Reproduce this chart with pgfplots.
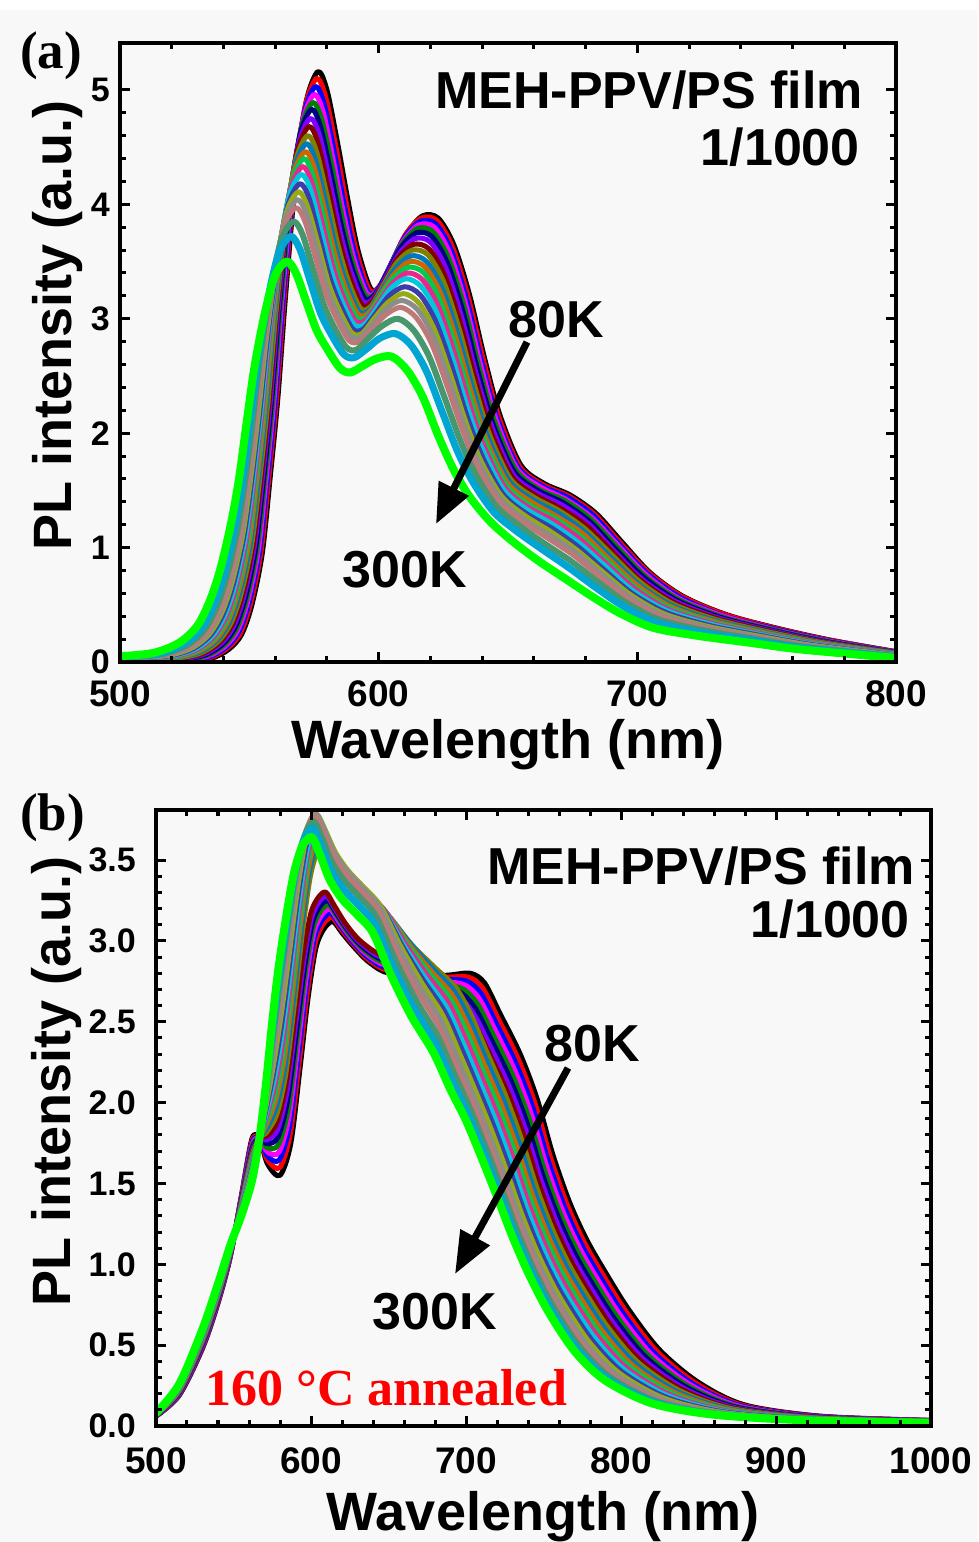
\documentclass[border=0pt]{standalone}
\usepackage{fontspec}
\setmainfont{Liberation Sans}
\newfontfamily\timesfont{Liberation Serif}
\usepackage{pgfplots}
\pgfplotsset{compat=1.18}
\usetikzlibrary{arrows.meta}
\definecolor{bgc}{RGB}{248,248,248}
\definecolor{c0}{RGB}{0,0,0}
\definecolor{c1}{RGB}{255,0,0}
\definecolor{c2}{RGB}{0,0,255}
\definecolor{c3}{RGB}{255,0,255}
\definecolor{c4}{RGB}{0,128,0}
\definecolor{c5}{RGB}{0,0,128}
\definecolor{c6}{RGB}{128,0,255}
\definecolor{c7}{RGB}{128,0,0}
\definecolor{c8}{RGB}{128,128,0}
\definecolor{c9}{RGB}{0,120,190}
\definecolor{c10}{RGB}{204,102,0}
\definecolor{c11}{RGB}{0,200,80}
\definecolor{c12}{RGB}{230,40,140}
\definecolor{c13}{RGB}{0,200,220}
\definecolor{c14}{RGB}{60,60,170}
\definecolor{c15}{RGB}{150,170,20}
\definecolor{c16}{RGB}{140,140,140}
\definecolor{c17}{RGB}{190,120,120}
\definecolor{c18}{RGB}{70,150,110}
\definecolor{c19}{RGB}{0,165,210}
\definecolor{c20}{RGB}{0,255,0}
\pgfplotsset{
  myaxis/.style={
    scale only axis, anchor=south west, axis on top,
    tick align=inside,
    major tick length=10pt, minor tick length=6pt,
    tick style={line width=3pt, black},
    axis line style={line width=3.5pt},
    scaled ticks=false,
    /pgf/number format/assume math mode=true,
    /pgf/number format/1000 sep={},
    xticklabel style={font=\bfseries\fontsize{37}{37}\selectfont, anchor=base, inner sep=0pt},
    yticklabel style={font=\bfseries\fontsize{34}{34}\selectfont, anchor=east, inner sep=0pt},
    label style={font=\bfseries\fontsize{54}{54}\selectfont},
    every axis plot/.append style={smooth, line join=round, line cap=round},
  },
  lw/.style={line width=5pt},
}
\begin{document}
\begin{tikzpicture}
\useasboundingbox (0,0) rectangle (979pt,-1542pt);
\fill[white] (0,0) rectangle (979pt,-1542pt);
\fill[bgc] (0,-10pt) rectangle (977pt,-1542pt);

% ---------------- panel (a) ----------------
\begin{axis}[myaxis,
  at={(120pt,-662pt)}, width=776pt, height=619pt,
  xmin=500, xmax=800, ymin=0, ymax=5.41,
  xtick={500,600,700,800}, minor x tick num=4,
  ytick={0,1,2,3,4,5}, minor y tick num=4,
  xticklabel style={yshift=-44pt},
  yticklabel style={xshift=-10pt},
  xlabel={Wavelength (nm)},
  xlabel style={at={(axis description cs:0.5,0)}, anchor=base, yshift=-96pt},
  ylabel={PL intensity (a.u.)},
  ylabel style={at={(axis description cs:-0.081,0.543)}, anchor=center},
]
\addplot[c0,lw] coordinates {(500,0)(525,.01)(535,.03)(542,.11)(547,.24)(551,.50)(555,.95)(558,1.60)(561,2.30)(564,3.20)(568,4.25)(572,4.90)(576.5,5.16)(580,5.00)(584,4.55)(588,4.05)(592,3.60)(597,3.26)(601,3.30)(606,3.52)(611,3.75)(617,3.90)(623,3.88)(629,3.65)(635,3.22)(641,2.65)(647,2.15)(655,1.72)(664,1.56)(674,1.46)(684,1.30)(694,1.05)(705,.78)(718,.57)(735,.41)(755,.29)(775,.19)(800,.09)};
\addplot[c1,lw] coordinates {(500,0)(524.5,.01)(534.5,.035)(541.5,.12)(546.5,.25)(550.5,.51)(554.5,.96)(557.5,1.60)(560.5,2.29)(563.5,3.18)(567.5,4.21)(571.5,4.85)(576,5.10)(579.5,4.94)(583.5,4.50)(587.5,4.01)(591.5,3.58)(596.5,3.25)(600.5,3.29)(605.5,3.51)(610.5,3.74)(616.5,3.88)(622.5,3.86)(628.5,3.63)(634.5,3.20)(640.5,2.64)(646.5,2.14)(654.5,1.71)(663.5,1.55)(673.5,1.45)(683.5,1.29)(693.5,1.04)(704.5,.78)(717.5,.57)(734.5,.41)(754.5,.29)(774.5,.19)(800,.09)};
\addplot[c2,lw] coordinates {(500,.004)(524,.016)(534,.041)(541,.127)(546,.265)(550,.526)(554,.972)(557,1.60)(560,2.28)(563,3.15)(567,4.15)(571,4.78)(575.5,5.03)(579,4.87)(583,4.44)(587,3.96)(591,3.55)(596,3.23)(600,3.27)(605,3.49)(610,3.71)(616,3.85)(622,3.83)(628,3.60)(634,3.17)(640,2.61)(646,2.12)(654,1.70)(663,1.54)(673,1.44)(683,1.28)(693,1.03)(704,.77)(717,.56)(734,.40)(754,.285)(774,.187)(800,.088)};
\addplot[c3,lw] coordinates {(500,.006)(523.5,.018)(533.5,.047)(540.5,.135)(545.5,.277)(549.5,.54)(553.5,.98)(556.5,1.60)(559.5,2.28)(562.5,3.13)(566.5,4.11)(570.5,4.72)(575,4.96)(578.5,4.81)(582.5,4.38)(586.5,3.91)(590.5,3.52)(595.5,3.22)(599.5,3.25)(604.5,3.46)(609.5,3.68)(615.5,3.82)(621.5,3.80)(627.5,3.57)(633.5,3.14)(639.5,2.59)(645.5,2.11)(653.5,1.69)(662.5,1.53)(672.5,1.42)(682.5,1.26)(692.5,1.02)(703.5,.76)(716.5,.55)(733.5,.40)(753.5,.28)(773.5,.185)(800,.086)};
\addplot[c4,lw] coordinates {(500,.008)(523,.021)(533,.052)(540,.144)(545,.29)(549,.553)(553,.993)(556,1.60)(559,2.27)(562,3.10)(566,4.06)(570,4.66)(574.5,4.89)(578,4.74)(582,4.33)(586,3.87)(590,3.49)(595,3.20)(599,3.23)(604,3.43)(609,3.65)(615,3.79)(621,3.76)(627,3.53)(633,3.11)(639,2.56)(645,2.09)(653,1.68)(662,1.51)(672,1.41)(682,1.25)(692,1.01)(703,.75)(716,.545)(733,.393)(753,.279)(773,.183)(800,.085)};
\addplot[c5,lw] coordinates {(500,.01)(522.5,.024)(532.5,.058)(539.5,.152)(544.5,.302)(548.5,.566)(552.5,1.00)(555.5,1.60)(558.5,2.26)(561.5,3.08)(565.5,4.01)(569.5,4.60)(574,4.83)(577.5,4.68)(581.5,4.27)(585.5,3.82)(589.5,3.46)(594.5,3.18)(598.5,3.21)(603.5,3.41)(608.5,3.62)(614.5,3.75)(620.5,3.72)(626.5,3.49)(632.5,3.07)(638.5,2.53)(644.5,2.06)(652.5,1.66)(661.5,1.50)(671.5,1.39)(681.5,1.23)(691.5,.99)(702.5,.74)(715.5,.537)(732.5,.388)(752.5,.275)(772.5,.18)(800,.083)};
\addplot[c6,lw] coordinates {(500,.012)(522,.027)(532,.064)(539,.161)(544,.316)(548,.581)(552,1.02)(555,1.60)(558,2.25)(561,3.05)(565,3.96)(569,4.53)(573.5,4.75)(577,4.61)(581,4.21)(585,3.77)(589,3.43)(594,3.15)(598,3.18)(603,3.37)(608,3.57)(614,3.70)(620,3.67)(626,3.44)(632,3.02)(638,2.49)(644,2.04)(652,1.64)(661,1.48)(671,1.37)(681,1.21)(691,.97)(702,.72)(715,.527)(732,.381)(752,.271)(772,.177)(800,.081)};
\addplot[c7,lw] coordinates {(500,.015)(521.5,.03)(531.5,.071)(538.5,.171)(543.5,.33)(547.5,.596)(551.5,1.03)(554.5,1.60)(557.5,2.24)(560.5,3.02)(564.5,3.90)(568.5,4.46)(573,4.68)(576.5,4.54)(580.5,4.14)(584.5,3.72)(588.5,3.39)(593.5,3.12)(597.5,3.15)(602.5,3.33)(607.5,3.53)(613.5,3.65)(619.5,3.61)(625.5,3.38)(631.5,2.97)(637.5,2.46)(643.5,2.01)(651.5,1.62)(660.5,1.46)(670.5,1.34)(680.5,1.19)(690.5,.96)(701.5,.71)(714.5,.516)(731.5,.374)(751.5,.266)(771.5,.174)(800,.079)};
\addplot[c8,lw] coordinates {(500,.017)(521,.033)(531,.077)(538,.18)(543,.344)(547,.611)(551,1.04)(554,1.60)(557,2.23)(560,2.99)(564,3.85)(568,4.39)(572.5,4.60)(576,4.46)(580,4.08)(584,3.67)(588,3.35)(593,3.09)(597,3.11)(602,3.30)(607,3.49)(613,3.60)(619,3.56)(625,3.33)(631,2.92)(637,2.42)(643,1.98)(651,1.60)(660,1.44)(670,1.32)(680,1.16)(690,.94)(701,.70)(714,.505)(731,.367)(751,.261)(771,.171)(800,.077)};
\addplot[c9,lw] coordinates {(500,.019)(520.5,.037)(530.5,.083)(537.5,.19)(542.5,.358)(546.5,.625)(550.5,1.05)(553.5,1.60)(556.5,2.22)(559.5,2.96)(563.5,3.79)(567.5,4.32)(572,4.53)(575.5,4.39)(579.5,4.02)(583.5,3.61)(587.5,3.31)(592.5,3.06)(596.5,3.08)(601.5,3.26)(606.5,3.44)(612.5,3.55)(618.5,3.50)(624.5,3.27)(630.5,2.87)(636.5,2.38)(642.5,1.95)(650.5,1.58)(659.5,1.42)(669.5,1.30)(679.5,1.14)(689.5,.92)(700.5,.68)(713.5,.493)(730.5,.359)(750.5,.256)(770.5,.167)(800,.074)};
\addplot[c10,lw] coordinates {(500,.021)(520,.039)(530,.089)(537,.198)(542,.37)(546,.639)(550,1.06)(553,1.60)(556,2.22)(559,2.94)(563,3.75)(567,4.26)(571.5,4.46)(575,4.33)(579,3.96)(583,3.57)(587,3.28)(592,3.04)(596,3.05)(601,3.22)(606,3.39)(612,3.50)(618,3.45)(624,3.22)(630,2.82)(636,2.34)(642,1.92)(650,1.56)(659,1.40)(669,1.27)(679,1.12)(689,.90)(700,.67)(713,.483)(730,.352)(750,.251)(770,.164)(800,.072)};
\addplot[c11,lw] coordinates {(500,.023)(519.5,.042)(529.5,.094)(536.5,.207)(541.5,.383)(545.5,.652)(549.5,1.07)(552.5,1.60)(555.5,2.21)(558.5,2.92)(562.5,3.70)(566.5,4.20)(571,4.40)(574.5,4.26)(578.5,3.91)(582.5,3.52)(586.5,3.25)(591.5,3.01)(595.5,3.02)(600.5,3.18)(605.5,3.35)(611.5,3.45)(617.5,3.40)(623.5,3.17)(629.5,2.77)(635.5,2.30)(641.5,1.90)(649.5,1.54)(658.5,1.37)(668.5,1.25)(678.5,1.09)(688.5,.88)(699.5,.65)(712.5,.472)(729.5,.344)(749.5,.246)(769.5,.161)(800,.07)};
\addplot[c12,lw] coordinates {(500,.025)(519,.045)(529,.10)(536,.215)(541,.395)(545,.665)(549,1.085)(552,1.60)(555,2.20)(558,2.89)(562,3.65)(566,4.14)(570.5,4.33)(574,4.20)(578,3.85)(582,3.48)(586,3.21)(591,2.98)(595,2.99)(600,3.14)(605,3.30)(611,3.40)(617,3.34)(623,3.11)(629,2.72)(635,2.26)(641,1.87)(649,1.52)(658,1.35)(668,1.23)(678,1.07)(688,.86)(699,.64)(712,.46)(729,.337)(749,.241)(769,.158)(800,.068)};
\addplot[c13,lw] coordinates {(500,.027)(518.5,.048)(528.5,.106)(535.5,.223)(540.5,.407)(544.5,.678)(548.5,1.10)(551.5,1.60)(554.5,2.19)(557.5,2.87)(561.5,3.60)(565.5,4.08)(570,4.26)(573.5,4.14)(577.5,3.79)(581.5,3.43)(585.5,3.17)(590.5,2.95)(594.5,2.95)(599.5,3.10)(604.5,3.26)(610.5,3.35)(616.5,3.28)(622.5,3.05)(628.5,2.66)(634.5,2.21)(640.5,1.84)(648.5,1.50)(657.5,1.33)(667.5,1.20)(677.5,1.04)(687.5,.84)(698.5,.62)(711.5,.449)(728.5,.329)(748.5,.236)(768.5,.154)(800,.065)};
\addplot[c14,lw] coordinates {(500,.03)(518,.051)(528,.113)(535,.234)(540,.423)(544,.695)(548,1.11)(551,1.60)(554,2.18)(557,2.83)(561,3.54)(565,4.00)(569.5,4.18)(573,4.06)(577,3.72)(581,3.37)(585,3.13)(590,2.91)(594,2.91)(599,3.05)(604,3.20)(610,3.28)(616,3.21)(622,2.98)(628,2.60)(634,2.16)(640,1.80)(648,1.47)(657,1.30)(667,1.17)(677,1.01)(687,.81)(698,.60)(711,.434)(728,.319)(748,.23)(768,.15)(800,.062)};
\addplot[c15,lw] coordinates {(500,.032)(517.5,.054)(527.5,.119)(534.5,.243)(539.5,.437)(543.5,.71)(547.5,1.12)(550.5,1.60)(553.5,2.17)(556.5,2.81)(560.5,3.49)(564.5,3.94)(569,4.11)(572.5,3.98)(576.5,3.66)(580.5,3.32)(584.5,3.09)(589.5,2.88)(593.5,2.87)(598.5,3.01)(603.5,3.14)(609.5,3.22)(615.5,3.14)(621.5,2.91)(627.5,2.53)(633.5,2.11)(639.5,1.76)(647.5,1.45)(656.5,1.28)(666.5,1.14)(676.5,.98)(686.5,.79)(697.5,.586)(710.5,.42)(727.5,.31)(747.5,.224)(767.5,.146)(800,.06)};
\addplot[c16,lw] coordinates {(500,.034)(517,.057)(527,.125)(534,.252)(539,.449)(543,.723)(547,1.13)(550,1.60)(553,2.17)(556,2.78)(560,3.44)(564,3.87)(568.5,4.04)(572,3.92)(576,3.61)(580,3.27)(584,3.05)(589,2.85)(593,2.84)(598,2.96)(603,3.09)(609,3.16)(615,3.08)(621,2.85)(627,2.48)(633,2.07)(639,1.73)(647,1.43)(656,1.25)(666,1.11)(676,.96)(686,.77)(697,.57)(710,.408)(727,.302)(747,.218)(767,.142)(800,.057)};
\addplot[c17,lw] coordinates {(500,.036)(516.5,.06)(526.5,.131)(533.5,.261)(538.5,.463)(542.5,.738)(546.5,1.14)(549.5,1.60)(552.5,2.16)(555.5,2.75)(559.5,3.39)(563.5,3.81)(568,3.97)(571.5,3.85)(575.5,3.54)(579.5,3.22)(583.5,3.01)(588.5,2.81)(592.5,2.80)(597.5,2.91)(602.5,3.03)(608.5,3.10)(614.5,3.01)(620.5,2.78)(626.5,2.41)(632.5,2.02)(638.5,1.69)(646.5,1.40)(655.5,1.23)(665.5,1.08)(675.5,.93)(685.5,.744)(696.5,.552)(709.5,.394)(726.5,.293)(746.5,.212)(766.5,.138)(800,.054)};
\addplot[c18,line width=6pt] coordinates {(500,.04)(515.5,.065)(525.5,.141)(532.5,.276)(537.5,.485)(541.5,.761)(545.5,1.16)(548.5,1.60)(551.5,2.14)(554.5,2.71)(558.5,3.30)(562.5,3.70)(567,3.85)(570.5,3.74)(574.5,3.44)(578.5,3.14)(582.5,2.94)(587.5,2.75)(591.5,2.73)(596.5,2.84)(601.5,2.94)(607.5,3.00)(613.5,2.90)(619.5,2.67)(625.5,2.31)(631.5,1.94)(637.5,1.64)(645.5,1.36)(654.5,1.19)(664.5,1.03)(674.5,.88)(684.5,.704)(695.5,.522)(708.5,.371)(725.5,.278)(745.5,.202)(765.5,.131)(800,.05)};
\addplot[c19,line width=7pt] coordinates {(500,.044)(514.5,.071)(524.5,.152)(531.5,.293)(536.5,.51)(540.5,.787)(544.5,1.19)(547.5,1.60)(550.5,2.13)(553.5,2.66)(557.5,3.21)(561.5,3.58)(566,3.72)(569.5,3.61)(573.5,3.33)(577.5,3.05)(581.5,2.87)(586.5,2.69)(590.5,2.66)(595.5,2.74)(600.5,2.83)(606.5,2.87)(612.5,2.77)(618.5,2.54)(624.5,2.19)(630.5,1.84)(636.5,1.57)(644.5,1.31)(653.5,1.14)(663.5,.98)(673.5,.825)(683.5,.658)(694.5,.488)(707.5,.345)(724.5,.26)(744.5,.19)(764.5,.123)(800,.044)};
\addplot[c20,line width=8pt] coordinates {(500,.05)(513,.08)(523,.17)(530,.32)(535,.55)(539,.83)(543,1.22)(546,1.60)(549,2.10)(552,2.58)(556,3.05)(560,3.38)(564.5,3.50)(568,3.40)(572,3.15)(576,2.90)(580,2.74)(585,2.57)(589,2.53)(594,2.59)(599,2.65)(605,2.67)(611,2.55)(617,2.32)(623,1.98)(629,1.68)(635,1.45)(643,1.23)(652,1.05)(662,.88)(672,.73)(682,.58)(693,.43)(706,.30)(723,.23)(743,.17)(763,.11)(800,.035)};
\end{axis}

% ---------------- panel (b) ----------------
\begin{axis}[myaxis,
  at={(156pt,-1426pt)}, width=775pt, height=616pt,
  xmin=500, xmax=1000, ymin=0, ymax=3.81,
  xtick={500,600,700,800,900,1000}, minor x tick num=4,
  ytick={0,0.5,1,1.5,2,2.5,3,3.5}, minor y tick num=4,
  xticklabel style={yshift=-47pt},
  yticklabel style={xshift=-20pt, /pgf/number format/.cd, fixed, fixed zerofill, precision=1},
  xlabel={Wavelength (nm)},
  xlabel style={at={(axis description cs:0.5,0)}, anchor=base, yshift=-104pt},
  ylabel={PL intensity (a.u.)},
  ylabel style={at={(axis description cs:-0.128,0.56)}, anchor=center},
]
\addplot[c0,lw] coordinates {(500,.06)(515,.19)(530,.48)(540,.76)(548,1.05)(555,1.42)(562,1.78)(567,1.77)(572,1.62)(580,1.55)(587,1.75)(593,2.22)(598,2.64)(603,2.95)(608,3.07)(614,3.12)(620,3.05)(627,2.97)(636,2.88)(647,2.81)(660,2.79)(675,2.78)(690,2.79)(703,2.80)(712,2.74)(722,2.55)(735,2.30)(746,2.02)(756,1.68)(767,1.38)(778,1.15)(790,.95)(805,.72)(825,.47)(850,.27)(880,.13)(930,.06)(1000,.035)};
\addplot[c1,lw] coordinates {(500,.061)(515,.194)(530,.486)(540,.766)(548,1.054)(555,1.414)(562,1.767)(567,1.772)(572,1.645)(579.8,1.598)(586.6,1.804)(592.6,2.267)(597.6,2.679)(602.6,2.982)(607.5,3.098)(613.4,3.146)(619.3,3.074)(626.3,2.991)(635.2,2.899)(646.2,2.828)(659,2.803)(673.9,2.78)(688.8,2.777)(701.8,2.776)(710.9,2.707)(720.9,2.517)(733.8,2.268)(744.7,1.99)(754.7,1.655)(765.7,1.359)(776.6,1.131)(788.5,.933)(803.4,.706)(823.3,.461)(848.5,.264)(879,.127)(929.5,.059)(1000,.034)};
\addplot[c2,lw] coordinates {(500,.062)(515,.197)(530,.492)(540,.772)(548,1.057)(555,1.408)(562,1.754)(567,1.773)(571.9,1.67)(579.5,1.645)(586.2,1.858)(592.1,2.313)(597.1,2.718)(602.1,3.013)(607,3.126)(612.7,3.172)(618.6,3.098)(625.5,3.011)(634.4,2.918)(645.3,2.845)(658,2.816)(672.7,2.78)(687.5,2.764)(700.6,2.751)(709.8,2.674)(719.8,2.484)(732.5,2.236)(743.4,1.96)(753.4,1.629)(764.3,1.337)(775.2,1.111)(787,.915)(801.7,.692)(821.5,.451)(847,.257)(878,.124)(929,.058)(1000,.034)};
\addplot[c3,lw] coordinates {(500,.063)(515,.201)(530,.498)(540,.778)(548,1.061)(555,1.402)(562,1.741)(567,1.775)(571.9,1.695)(579.3,1.693)(585.8,1.912)(591.7,2.36)(596.7,2.757)(601.7,3.045)(606.5,3.154)(612.1,3.198)(617.9,3.122)(624.8,3.032)(633.6,2.937)(644.5,2.863)(657,2.829)(671.6,2.78)(686.3,2.751)(699.4,2.727)(708.7,2.641)(718.7,2.451)(731.3,2.204)(742.1,1.93)(752.1,1.604)(763,1.316)(773.8,1.092)(785.5,.898)(800.1,.678)(819.8,.442)(845.5,.251)(877,.121)(928.5,.056)(1000,.033)};
\addplot[c4,lw] coordinates {(500,.064)(515,.204)(530,.504)(540,.784)(548,1.064)(555,1.396)(562,1.728)(567,1.776)(571.8,1.72)(579,1.74)(585.4,1.966)(591.2,2.406)(596.2,2.796)(601.2,3.076)(606,3.182)(611.4,3.224)(617.2,3.146)(624,3.052)(632.8,2.956)(643.6,2.88)(656,2.842)(670.4,2.78)(685,2.738)(698.2,2.702)(707.6,2.608)(717.6,2.418)(730,2.172)(740.8,1.90)(750.8,1.578)(761.6,1.294)(772.4,1.072)(784,.88)(798.4,.664)(818,.432)(844,.244)(876,.118)(928,.055)(1000,.032)};
\addplot[c5,lw] coordinates {(500,.065)(515,.208)(530,.51)(540,.79)(548,1.068)(555,1.39)(562,1.715)(567,1.778)(571.8,1.745)(578.8,1.788)(585,2.02)(590.8,2.453)(595.8,2.835)(600.8,3.108)(605.5,3.21)(610.8,3.25)(616.5,3.17)(623.3,3.073)(632,2.975)(642.8,2.898)(655,2.855)(669.3,2.78)(683.8,2.725)(697,2.678)(706.5,2.575)(716.5,2.385)(728.8,2.14)(739.5,1.87)(749.5,1.553)(760.3,1.273)(771,1.053)(782.5,.863)(796.8,.65)(816.3,.423)(842.5,.238)(875,.115)(927.5,.054)(1000,.031)};
\addplot[c6,lw] coordinates {(500,.066)(515,.211)(530,.516)(540,.796)(548,1.071)(555,1.384)(562,1.702)(567,1.779)(571.7,1.77)(578.5,1.835)(584.6,2.074)(590.3,2.499)(595.3,2.874)(600.3,3.139)(605,3.238)(610.1,3.276)(615.8,3.194)(622.5,3.093)(631.2,2.994)(641.9,2.915)(654,2.868)(668.1,2.78)(682.5,2.712)(695.8,2.653)(705.4,2.542)(715.4,2.352)(727.5,2.108)(738.2,1.84)(748.2,1.527)(758.9,1.251)(769.6,1.033)(781,.845)(795.1,.636)(814.5,.413)(841,.231)(874,.112)(927,.053)(1000,.031)};
\addplot[c7,lw] coordinates {(500,.067)(515,.215)(530,.522)(540,.802)(548,1.075)(555,1.378)(562,1.689)(567,1.781)(571.7,1.795)(578.3,1.883)(584.2,2.128)(589.9,2.546)(594.9,2.913)(599.9,3.171)(604.5,3.266)(609.5,3.302)(615.1,3.218)(621.8,3.114)(630.4,3.013)(641.1,2.933)(653,2.881)(667,2.78)(681.3,2.699)(694.6,2.629)(704.3,2.509)(714.3,2.319)(726.3,2.076)(736.9,1.81)(746.9,1.502)(757.6,1.23)(768.2,1.014)(779.5,.828)(793.5,.622)(812.8,.404)(839.5,.225)(873,.109)(926.5,.051)(1000,.03)};
\addplot[c8,lw] coordinates {(500,.068)(515,.218)(530,.528)(540,.808)(548,1.078)(555,1.372)(562,1.676)(567,1.782)(571.6,1.82)(578,1.93)(583.8,2.182)(589.4,2.619)(594.4,3.047)(599.4,3.391)(604,3.551)(608.8,3.598)(614.4,3.512)(621,3.404)(629.6,3.302)(640.2,3.207)(652,3.124)(665.8,2.969)(680,2.835)(693.4,2.712)(703.2,2.544)(713.2,2.318)(725,2.057)(735.6,1.78)(745.6,1.476)(756.2,1.208)(766.8,.994)(778,.81)(791.8,.608)(811,.394)(838,.218)(872,.106)(926,.05)(1000,.029)};
\addplot[c9,lw] coordinates {(500,.069)(515,.222)(530,.534)(540,.814)(548,1.082)(555,1.366)(562,1.663)(567,1.784)(571.6,1.845)(577.8,1.978)(583.4,2.236)(589,2.667)(594,3.089)(599,3.43)(603.5,3.588)(608.2,3.634)(613.7,3.546)(620.3,3.435)(628.8,3.331)(639.4,3.234)(651,3.145)(664.7,2.976)(678.8,2.827)(692.2,2.692)(702.1,2.513)(712.1,2.287)(723.8,2.026)(734.3,1.75)(744.3,1.451)(754.9,1.187)(765.4,.975)(776.5,.793)(790.2,.594)(809.3,.385)(836.5,.212)(871,.103)(925.5,.049)(1000,.028)};
\addplot[c10,lw] coordinates {(500,.07)(515,.225)(530,.54)(540,.82)(548,1.085)(555,1.36)(562,1.65)(567,1.785)(571.5,1.87)(577.5,2.025)(583,2.29)(588.5,2.713)(593.5,3.128)(598.5,3.461)(603,3.616)(607.5,3.66)(613,3.57)(619.5,3.455)(628,3.35)(638.5,3.251)(650,3.158)(663.5,2.976)(677.5,2.814)(691,2.667)(701,2.48)(711,2.254)(722.5,1.994)(733,1.72)(743,1.425)(753.5,1.165)(764,.955)(775,.775)(788.5,.58)(807.5,.375)(835,.205)(870,.10)(925,.048)(1000,.028)};
\addplot[c11,lw] coordinates {(500,.071)(515,.229)(530,.546)(540,.826)(548,1.089)(555,1.354)(562,1.637)(567,1.787)(571.5,1.895)(577.3,2.073)(582.6,2.344)(588.1,2.76)(593.1,3.167)(598.1,3.493)(602.5,3.644)(606.9,3.686)(612.3,3.594)(618.8,3.476)(627.2,3.369)(637.7,3.269)(649,3.171)(662.4,2.976)(676.3,2.801)(689.8,2.643)(699.9,2.447)(709.9,2.221)(721.3,1.962)(731.7,1.69)(741.7,1.40)(752.2,1.144)(762.6,.936)(773.5,.758)(786.9,.566)(805.8,.366)(833.5,.199)(869,.097)(924.5,.046)(1000,.027)};
\addplot[c12,lw] coordinates {(500,.072)(515,.232)(530,.552)(540,.832)(548,1.092)(555,1.348)(562,1.624)(567,1.788)(571.4,1.92)(577,2.12)(582.2,2.398)(587.6,2.806)(592.6,3.206)(597.6,3.524)(602,3.672)(606.2,3.712)(611.6,3.618)(618,3.496)(626.4,3.388)(636.8,3.286)(648,3.184)(661.2,2.976)(675,2.788)(688.6,2.618)(698.8,2.414)(708.8,2.188)(720,1.93)(730.4,1.66)(740.4,1.374)(750.8,1.122)(761.2,.916)(772,.74)(785.2,.552)(804,.356)(832,.192)(868,.094)(924,.045)(1000,.026)};
\addplot[c13,lw] coordinates {(500,.073)(515,.236)(530,.558)(540,.838)(548,1.096)(555,1.342)(562,1.611)(567,1.79)(571.4,1.945)(576.8,2.168)(581.8,2.452)(587.2,2.852)(592.2,3.242)(597.2,3.549)(601.5,3.691)(605.6,3.728)(610.9,3.632)(617.3,3.507)(625.6,3.397)(636,3.295)(647,3.189)(660.1,2.969)(673.8,2.77)(687.4,2.59)(697.7,2.379)(707.7,2.153)(718.8,1.898)(729.1,1.63)(739.1,1.349)(749.5,1.101)(759.8,.897)(770.5,.723)(783.6,.538)(802.3,.347)(830.5,.186)(867,.091)(923.5,.044)(1000,.025)};
\addplot[c14,lw] coordinates {(500,.074)(515,.239)(530,.564)(540,.844)(548,1.099)(555,1.336)(562,1.598)(567,1.791)(571.3,1.97)(576.5,2.215)(581.4,2.506)(586.7,2.898)(591.7,3.281)(596.7,3.58)(601,3.719)(604.9,3.754)(610.2,3.656)(616.5,3.527)(624.8,3.416)(635.1,3.312)(646,3.202)(658.9,2.969)(672.5,2.757)(686.2,2.565)(696.6,2.346)(706.6,2.12)(717.5,1.866)(727.8,1.60)(737.8,1.323)(748.1,1.079)(758.4,.877)(769,.705)(781.9,.524)(800.5,.337)(829,.179)(866,.088)(923,.043)(1000,.025)};
\addplot[c15,lw] coordinates {(500,.075)(515,.243)(530,.57)(540,.85)(548,1.103)(555,1.33)(562,1.585)(567,1.793)(571.3,1.995)(576.3,2.263)(581,2.56)(586.3,2.945)(591.3,3.32)(596.3,3.612)(600.5,3.747)(604.3,3.78)(609.5,3.68)(615.8,3.548)(624,3.435)(634.3,3.33)(645,3.215)(657.8,2.969)(671.3,2.744)(685,2.541)(695.5,2.313)(705.5,2.087)(716.3,1.834)(726.5,1.57)(736.5,1.298)(746.8,1.058)(757,.858)(767.5,.688)(780.3,.51)(798.8,.328)(827.5,.173)(865,.085)(922.5,.041)(1000,.024)};
\addplot[c16,lw] coordinates {(500,.076)(515,.246)(530,.576)(540,.856)(548,1.106)(555,1.324)(562,1.572)(567,1.794)(571.2,2.02)(576,2.31)(580.6,2.614)(585.8,2.989)(590.8,3.352)(595.8,3.629)(600,3.756)(603.6,3.786)(608.8,3.684)(615,3.548)(623.2,3.434)(633.4,3.328)(644,3.211)(656.6,2.955)(670,2.72)(683.8,2.508)(694.4,2.275)(704.4,2.052)(715,1.80)(725.2,1.54)(735.2,1.272)(745.4,1.036)(755.6,.838)(766,.67)(778.6,.496)(797,.318)(826,.166)(864,.082)(922,.04)(1000,.023)};
\addplot[c17,lw] coordinates {(500,.077)(515,.25)(530,.582)(540,.862)(548,1.11)(555,1.318)(562,1.559)(567,1.796)(571.2,2.045)(575.8,2.358)(580.2,2.668)(585.4,3.032)(590.4,3.377)(595.4,3.633)(599.5,3.746)(603,3.772)(608.1,3.668)(614.3,3.529)(622.4,3.413)(632.6,3.308)(643,3.19)(655.5,2.927)(668.8,2.685)(682.6,2.468)(693.3,2.232)(703.3,2.014)(713.8,1.766)(723.9,1.51)(733.9,1.247)(744.1,1.015)(754.2,.819)(764.5,.653)(777,.482)(795.3,.309)(824.5,.16)(863,.079)(921.5,.039)(1000,.022)};
\addplot[c18,line width=6pt] coordinates {(500,.078)(515,.253)(530,.588)(540,.868)(548,1.113)(555,1.312)(562,1.546)(567,1.797)(571.1,2.07)(575.5,2.405)(579.8,2.722)(584.9,3.072)(589.9,3.395)(594.9,3.622)(599,3.717)(602.3,3.738)(607.4,3.632)(613.5,3.489)(621.6,3.372)(631.7,3.268)(642,3.152)(654.3,2.885)(667.5,2.639)(681.4,2.419)(692.2,2.184)(702.2,1.974)(712.5,1.732)(722.6,1.48)(732.6,1.221)(742.7,.993)(752.8,.799)(763,.635)(775.3,.468)(793.5,.299)(823,.153)(862,.076)(921,.038)(1000,.022)};
\addplot[c19,line width=7pt] coordinates {(500,.079)(515,.257)(530,.594)(540,.874)(548,1.117)(555,1.306)(562,1.533)(567,1.799)(571.1,2.095)(575.3,2.453)(579.4,2.776)(584.5,3.112)(589.5,3.409)(594.5,3.605)(598.5,3.678)(601.7,3.694)(606.7,3.586)(612.8,3.44)(620.8,3.321)(630.9,3.219)(641,3.105)(653.2,2.836)(666.3,2.587)(680.2,2.367)(691.1,2.133)(701.1,1.933)(711.3,1.696)(721.3,1.45)(731.3,1.196)(741.4,.972)(751.4,.78)(761.5,.618)(773.7,.454)(791.8,.29)(821.5,.147)(861,.073)(920.5,.036)(1000,.021)};
\addplot[c20,line width=8pt] coordinates {(500,.08)(515,.26)(530,.60)(540,.88)(548,1.12)(555,1.30)(562,1.52)(567,1.80)(571,2.12)(575,2.50)(579,2.83)(584,3.15)(589,3.42)(594,3.58)(598,3.63)(601,3.64)(606,3.53)(612,3.38)(620,3.26)(630,3.16)(640,3.05)(652,2.78)(665,2.53)(679,2.31)(690,2.08)(700,1.89)(710,1.66)(720,1.42)(730,1.17)(740,.95)(750,.76)(760,.60)(772,.44)(790,.28)(820,.14)(860,.07)(920,.035)(1000,.02)};
\end{axis}

% ---------------- annotations ----------------
\tikzset{big/.style={font=\bfseries\fontsize{52}{52}\selectfont, inner sep=0pt}}
\node[big, anchor=base east] at (863pt,-108pt) {MEH-PPV/PS film};
\node[big, anchor=base east] at (860pt,-165pt) {1/1000};
\node[big, anchor=base] at (556pt,-337pt) {80K};
\node[big, anchor=base] at (405pt,-587pt) {300K};
\draw[line width=7pt, -{Triangle[length=40pt,width=32pt]}] (527pt,-342pt) -- (436pt,-524pt);

\node[big, anchor=base east] at (915pt,-884pt) {MEH-PPV/PS film};
\node[big, anchor=base east] at (910pt,-937pt) {1/1000};
\node[big, anchor=base] at (592pt,-1061pt) {80K};
\node[big, anchor=base] at (435pt,-1329pt) {300K};
\draw[line width=7pt, -{Triangle[length=42pt,width=32pt]}] (568pt,-1068pt) -- (455pt,-1274pt);

\node[anchor=base west, inner sep=0pt, text=red, font=\timesfont\bfseries\fontsize{52}{52}\selectfont] at (205pt,-1405pt) {160 °C annealed};
\node[anchor=base west, inner sep=0pt, font=\timesfont\bfseries\fontsize{53}{53}\selectfont] at (20pt,-68pt) {(a)};
\node[anchor=base west, inner sep=0pt, font=\timesfont\bfseries\fontsize{53}{53}\selectfont] at (20pt,-830pt) {(b)};
\end{tikzpicture}
\end{document}
